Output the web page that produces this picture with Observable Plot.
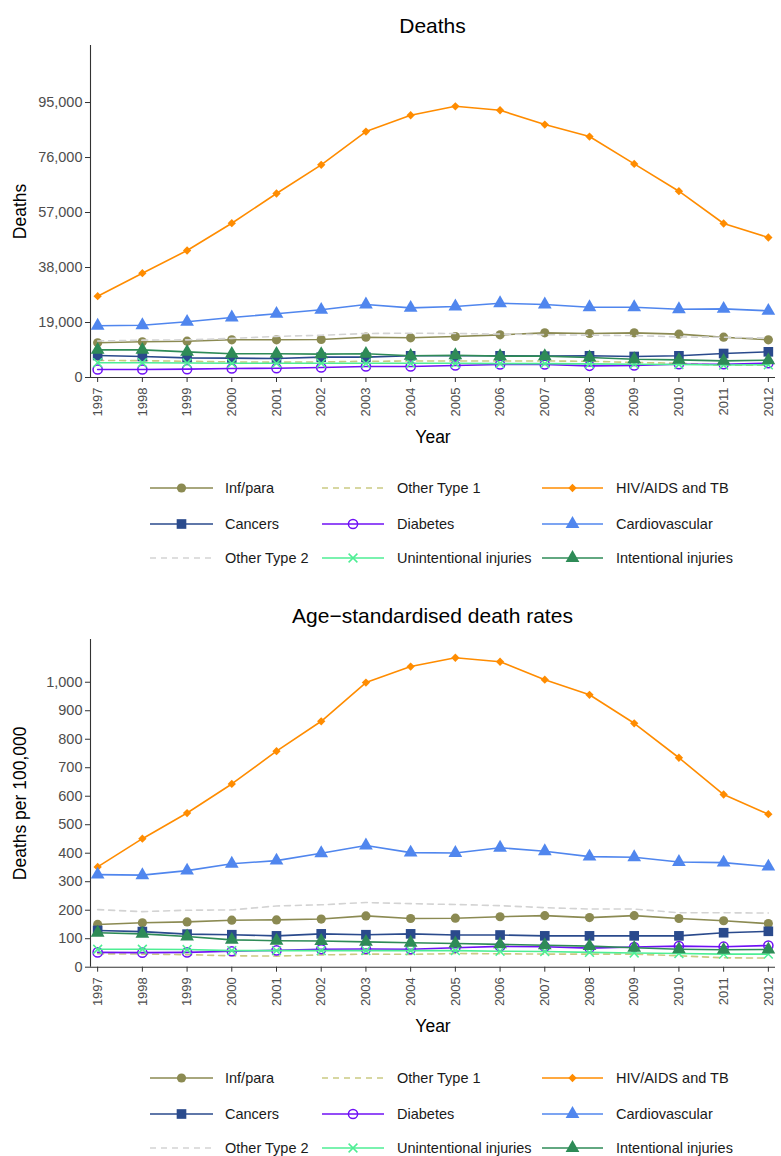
<!DOCTYPE html>
<html><head><meta charset="utf-8">
<script src="https://cdn.jsdelivr.net/npm/d3@7"></script>
<script src="https://cdn.jsdelivr.net/npm/@observablehq/plot@0.6"></script>
<style>
body{margin:0;background:#fff;font-family:"Liberation Sans",Arial,sans-serif;}
#root{position:relative;width:781px;height:1156px;overflow:hidden;background:#fff;}
.title{position:absolute;left:90px;width:685px;text-align:center;font-size:21px;line-height:21px;color:#000;white-space:nowrap;}
.chart{position:absolute;left:0;}
.legend{position:absolute;left:0;}
svg g[aria-label="y-axis label"], svg g[aria-label="x-axis label"]{font-size:17.5px;fill:#000;}
svg g[aria-label="y-axis tick label"], svg g[aria-label="x-axis tick label"]{fill:#4d4d4d;}
svg g[aria-label="y-axis tick"], svg g[aria-label="x-axis tick"]{stroke:#333;}
</style></head><body><div id="root"></div>
<script>
// ---- data ----
const years = [1997,1998,1999,2000,2001,2002,2003,2004,2005,2006,2007,2008,2009,2010,2011,2012];
const causes = ["Inf/para","Other Type 1","HIV/AIDS and TB","Cancers","Diabetes","Cardiovascular","Other Type 2","Unintentional injuries","Intentional injuries"];

// Deaths
const deathsInfPara       = [11980,12330,12540,13020,13020,13130,13920,13710,14160,14730,15420,15200,15420,14970,13920,13020];
const deathsOtherType1    = [5900,5800,5600,5400,5300,5400,5600,5700,5700,5700,5700,5600,5200,4900,4200,4300];
const deathsHivTb         = [28080,36030,43870,53300,63560,73470,84970,90600,93700,92330,87390,83250,73800,64360,53200,48360];
const deathsCancers       = [7600,7260,6790,6680,6560,7030,7030,7490,7490,7490,7370,7490,7260,7490,8290,8870];
const deathsDiabetes      = [2760,2760,2880,3110,3220,3450,3800,3800,4150,4490,4490,4030,4150,4600,4600,4950];
const deathsCardio        = [17900,18070,19240,20730,22000,23380,25220,24070,24520,25670,25220,24290,24290,23600,23720,23030];
const deathsOtherType2    = [12600,12900,13000,13500,14200,14600,15200,15300,15200,15000,14800,14600,14500,14000,13900,13600];
const deathsUnintentional = [5100,5100,5000,4900,4900,4900,4900,4900,4900,4800,4800,4700,4600,4500,4300,4400];
const deathsIntentional   = [9560,9560,8870,8180,8180,8060,8180,7490,7710,7370,7370,6910,6330,6100,5760,5990];

// Age-standardised death rates (per 100,000)
const ratesInfPara       = [150,156,159,165,166,169,180,171,172,177,181,174,181,171,163,153];
const ratesOtherType1    = [47,46,44,40,39,43,46,45,48,47,46,46,46,40,33,32];
const ratesHivTb         = [352,451,541,643,758,863,999,1055,1086,1072,1009,956,856,735,606,537];
const ratesCancers       = [129,125,116,114,110,117,114,117,113,113,110,110,110,110,121,126];
const ratesDiabetes      = [52,51,52,56,59,63,64,63,68,73,72,67,71,74,72,76];
const ratesCardio        = [325,323,339,363,374,400,427,402,401,419,407,388,386,369,367,353];
const ratesOtherType2    = [202,195,200,201,215,219,227,223,220,216,209,204,204,191,191,190];
const ratesUnintentional = [63,63,62,58,58,58,58,58,58,56,55,52,50,48,46,46];
const ratesIntentional   = [121,117,108,96,93,92,89,86,83,80,77,74,68,63,61,62];

const deathTicks = [0,19000,38000,57000,76000,95000];
const rateTicks = [0,100,200,300,400,500,600,700,800,900,1000];

// ---- styles ----
const styles = {
  "Inf/para":               {color:"#8b8a52", symbol:"circle",   filled:true,  r:2.7, dash:null},
  "Other Type 1":           {color:"#caca82", symbol:null,       dash:"6,5"},
  "HIV/AIDS and TB":        {color:"#ff8c00", symbol:"diamond2", filled:true,  r:2.2, dash:null},
  "Cancers":                {color:"#2a4a8c", symbol:"square",   filled:true,  r:3.2, dash:null},
  "Diabetes":               {color:"#6f10f5", symbol:"circle",   filled:false, r:2.7, dash:null},
  "Cardiovascular":         {color:"#5086ee", symbol:"triangle", filled:true,  r:3.0, dash:null},
  "Other Type 2":           {color:"#d3d3d3", symbol:null,       dash:"6,5"},
  "Unintentional injuries": {color:"#4eee94", symbol:"times",    filled:false, r:2.4, dash:null},
  "Intentional injuries":   {color:"#2e8b57", symbol:"triangle", filled:true,  r:3.0, dash:null}
};
const symbolTypes = {circle:d3.symbolCircle, square:d3.symbolSquare, triangle:d3.symbolTriangle, diamond2:d3.symbolDiamond2, times:d3.symbolTimes};

const xMin = 1996.84, xMax = 2012.16;
const root = document.getElementById("root");

function makeChart(series, ymax, yticks, ylabel, mTop, mBottom) {
  const marks = [
    Plot.axisY({ticks: yticks, tickFormat: d3.format(","), tickSize: 5, tickPadding: 3, fontSize: 14.5,
      label: ylabel, labelAnchor: "center", labelArrow: "none", labelOffset: 77}),
    Plot.axisX({ticks: years, tickFormat: d => String(d), tickRotate: -90, tickSize: 5, tickPadding: 5, fontSize: 13,
      label: "Year", labelAnchor: "center", labelArrow: "none", labelOffset: 65}),
    Plot.ruleX([xMin], {stroke: "#333", strokeWidth: 1.1}),
    Plot.ruleY([0], {stroke: "#333", strokeWidth: 1.1})
  ];
  causes.forEach((c, i) => {
    const s = styles[c];
    const data = years.map((y, j) => ({year: y, value: series[i][j]}));
    marks.push(Plot.line(data, {x: "year", y: "value", stroke: s.color, strokeWidth: 1.6, strokeDasharray: s.dash || undefined}));
    if (s.symbol) {
      marks.push(Plot.dot(data, {x: "year", y: "value", symbol: s.symbol, r: s.r * 1.7,
        fill: s.filled ? s.color : "none", stroke: s.filled ? "none" : s.color, strokeWidth: 1.5}));
    }
  });
  return Plot.plot({
    width: 781, height: 460, marginLeft: 90, marginRight: 6, marginTop: mTop, marginBottom: mBottom,
    x: {domain: [xMin, xMax]},
    y: {domain: [0, ymax]},
    style: {fontFamily: "'Liberation Sans', Arial, sans-serif", background: "transparent"},
    marks
  });
}

function addTitle(text, top) {
  const d = document.createElement("div");
  d.className = "title"; d.style.top = top + "px"; d.textContent = text;
  root.appendChild(d);
}

function addLegend(top) {
  const svg = d3.select(root).append("svg").attr("class", "legend")
    .style("top", top + "px").attr("width", 781).attr("height", 110);
  const cols = [{x0:150, x1:213, tx:225}, {x0:322, x1:384, tx:397}, {x0:542, x1:603, tx:616}];
  const rows = [18, 54, 88];
  causes.forEach((c, i) => {
    const s = styles[c];
    const col = cols[i % 3], y = rows[Math.floor(i / 3)];
    const g = svg.append("g");
    g.append("line").attr("x1", col.x0).attr("x2", col.x1).attr("y1", y).attr("y2", y)
      .attr("stroke", s.color).attr("stroke-width", 1.6).attr("stroke-dasharray", s.dash);
    if (s.symbol) {
      const r = s.r * 1.7;
      g.append("path").attr("transform", `translate(${(col.x0 + col.x1) / 2},${y})`)
        .attr("d", d3.symbol(symbolTypes[s.symbol], r * r * Math.PI)())
        .attr("fill", s.filled ? s.color : "none").attr("stroke", s.filled ? "none" : s.color).attr("stroke-width", 1.5);
    }
    g.append("text").attr("x", col.tx).attr("y", y).attr("dy", "0.35em")
      .attr("font-size", 14.5).attr("fill", "#1a1a1a")
      .attr("font-family", "'Liberation Sans', Arial, sans-serif").text(c);
  });
}

addTitle("Deaths", 15);
const c1 = makeChart([deathsInfPara, deathsOtherType1, deathsHivTb, deathsCancers, deathsDiabetes, deathsCardio, deathsOtherType2, deathsUnintentional, deathsIntentional], 114700, deathTicks, "Deaths", 45, 83);
c1.classList.add("chart"); c1.style.top = "0px"; root.appendChild(c1);
addLegend(470);

addTitle("Age\u2212standardised death rates", 605);
const c2 = makeChart([ratesInfPara, ratesOtherType1, ratesHivTb, ratesCancers, ratesDiabetes, ratesCardio, ratesOtherType2, ratesUnintentional, ratesIntentional], 1150, rateTicks, "Deaths per 100,000", 49, 83.3);
c2.classList.add("chart"); c2.style.top = "590px"; root.appendChild(c2);
addLegend(1060);
</script></body></html>
